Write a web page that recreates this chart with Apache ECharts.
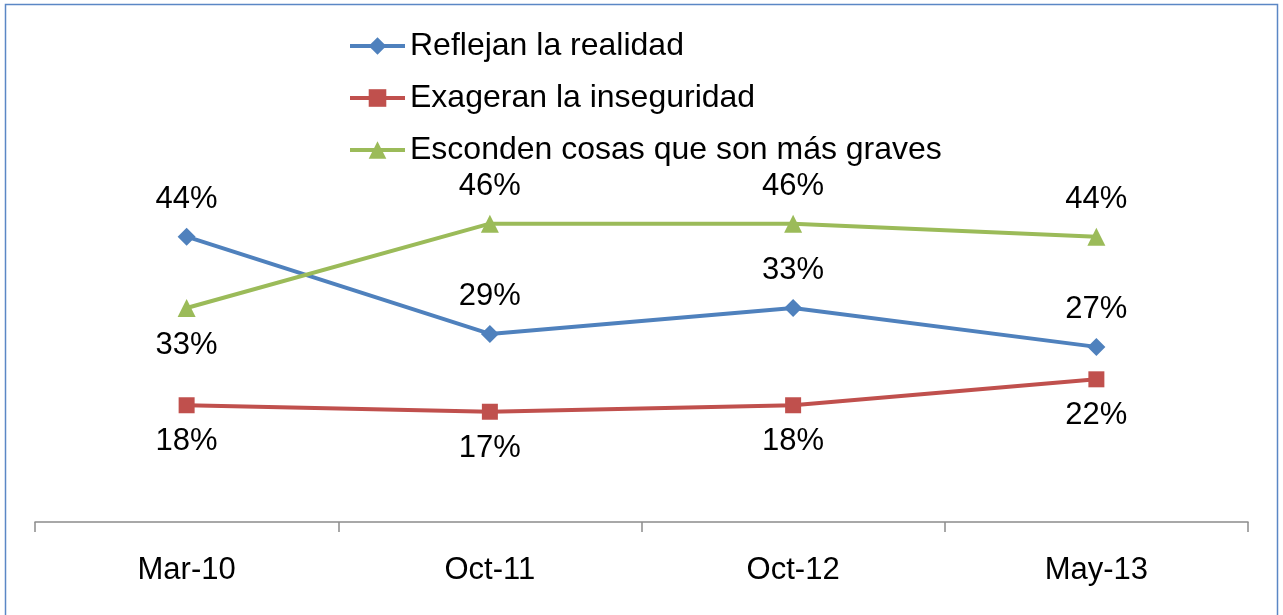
<!DOCTYPE html>
<html>
<head>
<meta charset="utf-8">
<style>
  html, body { margin: 0; padding: 0; background: #fff; }
  #chart { width: 1283px; height: 615px; }
</style>
<script src="https://cdn.jsdelivr.net/npm/echarts@6/dist/echarts.min.js"></script>
</head>
<body>
<div id="chart"></div>
<script>
// Survey waves
const categories = ['Mar-10', 'Oct-11', 'Oct-12', 'May-13'];

// Share of respondents (%) per answer
const seriesNames = [
  'Reflejan la realidad',
  'Exageran la inseguridad',
  'Esconden cosas que son más graves'
];
const reflejan = [44, 29, 33, 27];
const exageran = [18, 17, 18, 22];
const esconden = [33, 46, 46, 44];

const FONT = '"Liberation Sans", Arial, sans-serif';
const FONT_SIZE = 31;
const chart = echarts.init(document.getElementById('chart'));

function lineSeries(name, values, color, symbol, size, labelPos, overrides) {
  return {
    name: name,
    type: 'line',
    data: values.map((v, i) =>
      overrides && overrides[i] ? { value: v, label: { position: overrides[i] } } : v),
    symbol: symbol,
    symbolSize: size,
    lineStyle: { color: color, width: 4 },
    itemStyle: { color: color },
    label: {
      show: true,
      position: labelPos,
      distance: 13,
      formatter: '{c}%',
      color: '#000',
      fontFamily: FONT,
      fontSize: FONT_SIZE
    },
    emphasis: { disabled: true },
    animation: false
  };
}

chart.setOption({
  backgroundColor: '#fff',
  graphic: [{
    type: 'rect',
    shape: { x: 5.5, y: 4.5, width: 1272, height: 640 },
    style: { fill: 'none', stroke: '#5b87c5', lineWidth: 1.5 },
    silent: true
  }],
  legend: {
    orient: 'vertical',
    left: 343,
    top: 24,
    itemWidth: 55,
    itemHeight: 22,
    itemGap: 18,
    lineStyle: { width: 4 },
    textStyle: { fontFamily: FONT, fontSize: 32, color: '#000', lineHeight: 34 },
    data: seriesNames
  },
  grid: { left: 35, right: 35, top: 68, bottom: 93 },
  xAxis: {
    type: 'category',
    data: categories,
    boundaryGap: true,
    axisLine: { lineStyle: { color: '#8c8c8c', width: 1.5 } },
    axisTick: { show: true, length: 10, lineStyle: { color: '#8c8c8c', width: 1.5 } },
    axisLabel: { color: '#000', fontFamily: FONT, fontSize: FONT_SIZE, margin: 33 }
  },
  yAxis: {
    type: 'value',
    min: 0,
    max: 70,
    show: false,
    splitLine: { show: false }
  },
  series: [
    lineSeries(seriesNames[0], reflejan, '#4F81BD', 'diamond', 18, 'top'),
    lineSeries(seriesNames[1], exageran, '#C0504D', 'rect', 16, 'bottom'),
    lineSeries(seriesNames[2], esconden, '#9BBB59', 'triangle', 18, 'top', { 0: 'bottom' })
  ]
});
</script>
</body>
</html>
